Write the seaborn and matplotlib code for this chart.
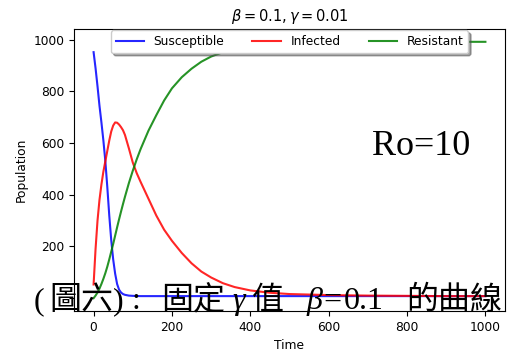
import matplotlib
matplotlib.use("Agg")
import matplotlib.pyplot as plt
import seaborn as sns
import pandas as pd

# ---- data ----
time = [0, 5, 10, 15, 20, 25, 30, 35, 40, 45, 50, 55, 60, 65, 70, 75, 80, 90,
        100, 110, 120, 140, 160, 180, 200, 225, 250, 275, 300, 330, 360, 400,
        450, 500, 550, 600, 700, 800, 900, 1000]
susceptible = [952, 890, 820, 745, 680, 610, 530, 430, 320, 225, 150, 95, 55,
               33, 22, 16, 13, 10, 9, 8.5, 8, 8, 8, 8, 8, 8, 8, 8, 8, 8, 8, 8,
               8, 8, 8, 8, 8, 8, 8, 8]
infected = [53, 190, 300, 380, 440, 490, 530, 570, 610, 645, 668, 680, 679,
            672, 662, 650, 632, 580, 525, 484, 450, 385, 320, 265, 222, 175,
            135, 103, 80, 58, 43, 30, 21, 16, 14, 12, 10, 9, 8, 8]
resistant = [0, 10, 22, 37, 55, 75, 97, 122, 150, 180, 210, 242, 274, 305,
             335, 364, 392, 445, 493, 537, 577, 648, 708, 765, 812, 855, 888,
             915, 935, 952, 963, 973, 981, 986, 988, 990, 991, 992, 992, 992]
series_names = ["Susceptible", "Infected", "Resistant"]
y_ticks = [0, 200, 400, 600, 800, 1000]
y_tick_labels = ["", "200", "400", "600", "800", "1000"]
title_text = r"$\beta = 0.1, \gamma = 0.01$"
annotation = "Ro=10"
caption_parts = ["(", "圖六", ")", ":", "固定", "γ", "值", "β=", "0.1", "的曲線"]
caption_italic = [False, False, False, False, False, True, False, True, False, False]

df = pd.DataFrame({
    "Time": time * 3,
    "Population": susceptible + infected + resistant,
    "Group": [series_names[0]] * len(time) + [series_names[1]] * len(time)
             + [series_names[2]] * len(time),
})

W, H = 508, 352
fig = plt.figure(figsize=(W / 100, H / 100), dpi=100)
ax = fig.add_axes([74 / W, 1 - 311 / H, (505 - 74) / W, (311 - 29) / H])

fs = 8.8
palette = {"Susceptible": (0, 0, 1), "Infected": (1, 0, 0), "Resistant": (0, 0.5, 0)}
sns.lineplot(data=df, x="Time", y="Population", hue="Group", palette=palette,
             hue_order=series_names, estimator=None, linewidth=1.5, alpha=0.85,
             ax=ax, legend=True)

ax.set_yticks(y_ticks)
ax.set_yticklabels(y_tick_labels)
ax.tick_params(labelsize=fs, length=3.5, width=0.8)
ax.set_xlabel("Time", fontsize=fs)
ax.set_ylabel("Population", fontsize=fs)
ax.set_title(title_text, fontsize=10.5)
for s in ax.spines.values():
    s.set_linewidth(0.8)

handles, labels = ax.get_legend_handles_labels()
ax.legend(handles, labels, ncol=3, loc="upper center", bbox_to_anchor=(0.5, 1.0),
          borderaxespad=0.1, fontsize=fs, shadow=True, fancybox=True,
          framealpha=1, title=None, handlelength=2.3, columnspacing=2.3)

# annotation text on the image
fig.text(372 / W, 1 - 155 / H, annotation, family="Liberation Serif",
         fontsize=26, ha="left", va="baseline")

# caption overlaid at the bottom
fam = ["Liberation Serif", "Noto Sans CJK TC"]
xs = [34, 49, 113, 131, 161, 232, 252, 307, 344, 406]
base = 1 - 309 / H
for txt, x, it in zip(caption_parts, xs, caption_italic):
    fig.text(x / W, base, txt, family=fam, fontsize=23, ha="left",
             va="baseline", color="black", zorder=10, fontweight="light",
             style="italic" if it else "normal")

fig.savefig("out.png", dpi=100)
